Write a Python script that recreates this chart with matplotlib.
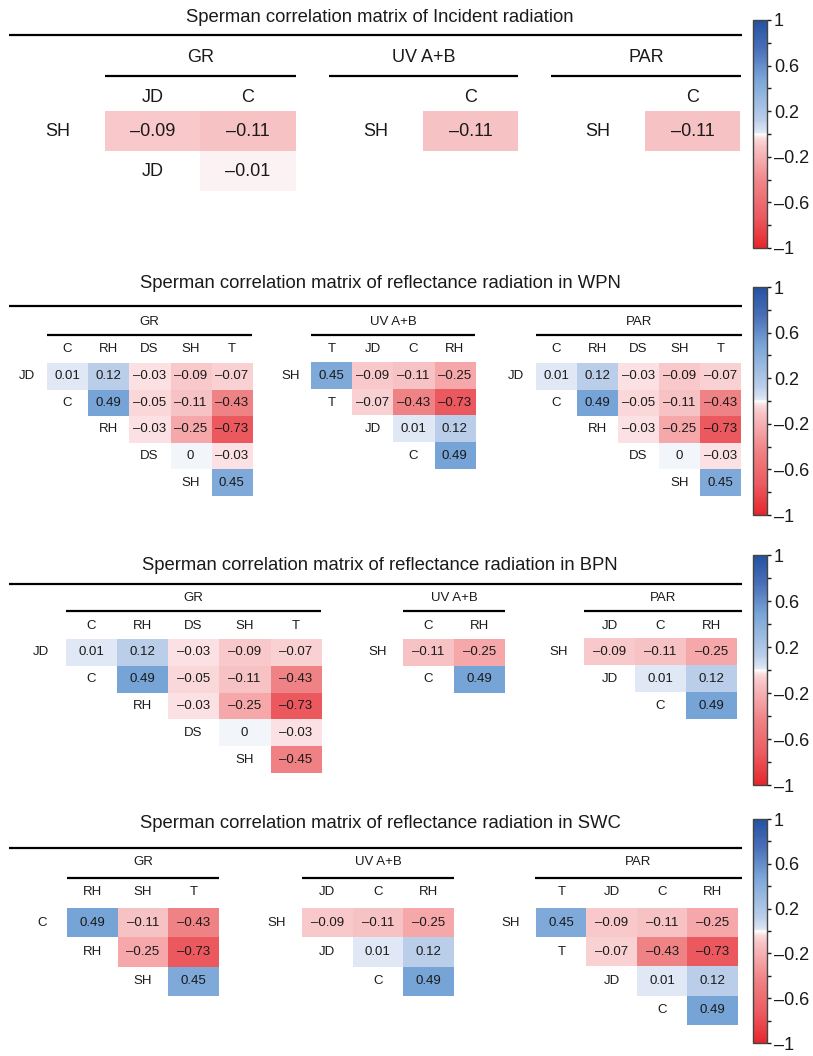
import numpy as np
import matplotlib
matplotlib.use('Agg')
import matplotlib.pyplot as plt
from matplotlib.colors import LinearSegmentedColormap, Normalize
from matplotlib.cm import ScalarMappable
from matplotlib.ticker import FixedLocator

plt.rcParams['font.family'] = ['Liberation Sans', 'DejaVu Sans']

nan = np.nan

# Incident radiation
inc_gr_cols = ['JD', 'C']
inc_gr_rows = ['SH', 'JD']
inc_gr_vals = [[-0.09, -0.11],
               [nan, -0.01]]
inc_uv_cols = ['C']
inc_uv_rows = ['SH']
inc_uv_vals = [[-0.11]]
inc_par_cols = ['C']
inc_par_rows = ['SH']
inc_par_vals = [[-0.11]]

# Reflectance radiation, WPN
wpn_gr_cols = ['C', 'RH', 'DS', 'SH', 'T']
wpn_gr_rows = ['JD', 'C', 'RH', 'DS', 'SH']
wpn_gr_vals = [[0.01, 0.12, -0.03, -0.09, -0.07],
               [nan, 0.49, -0.05, -0.11, -0.43],
               [nan, nan, -0.03, -0.25, -0.73],
               [nan, nan, nan, 0, -0.03],
               [nan, nan, nan, nan, 0.45]]
wpn_uv_cols = ['T', 'JD', 'C', 'RH']
wpn_uv_rows = ['SH', 'T', 'JD', 'C']
wpn_uv_vals = [[0.45, -0.09, -0.11, -0.25],
               [nan, -0.07, -0.43, -0.73],
               [nan, nan, 0.01, 0.12],
               [nan, nan, nan, 0.49]]
wpn_par_cols = ['C', 'RH', 'DS', 'SH', 'T']
wpn_par_rows = ['JD', 'C', 'RH', 'DS', 'SH']
wpn_par_vals = [[0.01, 0.12, -0.03, -0.09, -0.07],
                [nan, 0.49, -0.05, -0.11, -0.43],
                [nan, nan, -0.03, -0.25, -0.73],
                [nan, nan, nan, 0, -0.03],
                [nan, nan, nan, nan, 0.45]]

# Reflectance radiation, BPN
bpn_gr_cols = ['C', 'RH', 'DS', 'SH', 'T']
bpn_gr_rows = ['JD', 'C', 'RH', 'DS', 'SH']
bpn_gr_vals = [[0.01, 0.12, -0.03, -0.09, -0.07],
               [nan, 0.49, -0.05, -0.11, -0.43],
               [nan, nan, -0.03, -0.25, -0.73],
               [nan, nan, nan, 0, -0.03],
               [nan, nan, nan, nan, -0.45]]
bpn_uv_cols = ['C', 'RH']
bpn_uv_rows = ['SH', 'C']
bpn_uv_vals = [[-0.11, -0.25],
               [nan, 0.49]]
bpn_par_cols = ['JD', 'C', 'RH']
bpn_par_rows = ['SH', 'JD', 'C']
bpn_par_vals = [[-0.09, -0.11, -0.25],
                [nan, 0.01, 0.12],
                [nan, nan, 0.49]]

# Reflectance radiation, SWC
swc_gr_cols = ['RH', 'SH', 'T']
swc_gr_rows = ['C', 'RH', 'SH']
swc_gr_vals = [[0.49, -0.11, -0.43],
               [nan, -0.25, -0.73],
               [nan, nan, 0.45]]
swc_uv_cols = ['JD', 'C', 'RH']
swc_uv_rows = ['SH', 'JD', 'C']
swc_uv_vals = [[-0.09, -0.11, -0.25],
               [nan, 0.01, 0.12],
               [nan, nan, 0.49]]
swc_par_cols = ['T', 'JD', 'C', 'RH']
swc_par_rows = ['SH', 'T', 'JD', 'C']
swc_par_vals = [[0.45, -0.09, -0.11, -0.25],
                [nan, -0.07, -0.43, -0.73],
                [nan, nan, 0.01, 0.12],
                [nan, nan, nan, 0.49]]

group_names = ['GR', 'UV A+B', 'PAR']
cbar_ticks = [1, 0.6, 0.2, -0.2, -0.6, -1]
cbar_labels = ['1', '0.6', '0.2', '\u20130.2', '\u20130.6', '\u20131']

# red - white - blue diverging map
cmap = LinearSegmentedColormap.from_list('rwb', [
    (0.0, '#e6262b'),
    (0.135, '#ec5a60'),
    (0.285, '#f08386'),
    (0.375, '#f5a7aa'),
    (0.45, '#f8c5c7'),
    (0.485, '#fbdfe1'),
    (0.5, '#ffffff'),
    (0.505, '#e0e9f5'),
    (0.56, '#bccfea'),
    (0.745, '#78a5d8'),
    (0.875, '#4a6fb9'),
    (1.0, '#2352a0'),
])
norm = Normalize(-1, 1)

W, H = 813, 1056
fig = plt.figure(figsize=(W / 100, H / 100), dpi=100)
bg = fig.add_axes([0, 0, 1, 1])
bg.set_xlim(0, W)
bg.set_ylim(H, 0)
bg.axis('off')

txt = '#1a1a1a'


def fmt(v):
    if v == 0:
        return '0'
    return f'{v:.2f}'.replace('-', '\u2013')


def draw_matrix(cols, rows, vals, x0, top, cw, ch, fs):
    vals = np.array(vals, dtype=float)
    nr, nc = vals.shape
    bg.imshow(np.ma.masked_invalid(vals), cmap=cmap, norm=norm,
              extent=[x0, x0 + nc * cw, top + nr * ch, top],
              aspect='auto', interpolation='nearest', zorder=1)
    for i in range(nr):
        for j in range(nc):
            if not np.isnan(vals[i, j]):
                bg.text(x0 + (j + 0.5) * cw, top + (i + 0.5) * ch, fmt(vals[i, j]),
                        ha='center', va='center', fontsize=fs, color=txt, zorder=3)
        # row label sits just left of the first cell of its row
        bg.text(x0 + (i - 0.5) * cw, top + (i + 0.5) * ch, rows[i],
                ha='center', va='center', fontsize=fs, color=txt, zorder=3)
    return nc


panels = [
    dict(title='Sperman correlation matrix of Incident radiation',
         groups=[(inc_gr_cols, inc_gr_rows, inc_gr_vals),
                 (inc_uv_cols, inc_uv_rows, inc_uv_vals),
                 (inc_par_cols, inc_par_rows, inc_par_vals)],
         title_y=17, line_y=35, head_y=57, uline_y=76, clab_y=97, top=111,
         cw=95, ch=40, x0=[105, 423, 645], uline=[(105, 296), (329, 518), (551, 741)],
         fs=13, cbar=(20, 248)),
    dict(title='Sperman correlation matrix of reflectance radiation in WPN',
         groups=[(wpn_gr_cols, wpn_gr_rows, wpn_gr_vals),
                 (wpn_uv_cols, wpn_uv_rows, wpn_uv_vals),
                 (wpn_par_cols, wpn_par_rows, wpn_par_vals)],
         title_y=283, line_y=306, head_y=322, uline_y=335, clab_y=349, top=363,
         cw=41, ch=26.6, x0=[47, 311, 536], uline=[(47, 252), (311, 475), (536, 742)],
         fs=9.5, cbar=(287, 515)),
    dict(title='Sperman correlation matrix of reflectance radiation in BPN',
         groups=[(bpn_gr_cols, bpn_gr_rows, bpn_gr_vals),
                 (bpn_uv_cols, bpn_uv_rows, bpn_uv_vals),
                 (bpn_par_cols, bpn_par_rows, bpn_par_vals)],
         title_y=565, line_y=584, head_y=598, uline_y=611, clab_y=626, top=639,
         cw=51, ch=26.8, x0=[66, 403, 584], uline=[(66, 321), (403, 505), (584, 742)],
         fs=9.5, cbar=(555, 785)),
    dict(title='Sperman correlation matrix of reflectance radiation in SWC',
         groups=[(swc_gr_cols, swc_gr_rows, swc_gr_vals),
                 (swc_uv_cols, swc_uv_rows, swc_uv_vals),
                 (swc_par_cols, swc_par_rows, swc_par_vals)],
         title_y=823, line_y=848, head_y=862, uline_y=878, clab_y=892, top=908,
         cw=50.5, ch=29.2, x0=[67, 302, 536], uline=[(67, 219), (302, 454), (535, 742)],
         fs=9.5, cbar=(819, 1043)),
]

for p in panels:
    bg.text(380, p['title_y'], p['title'], ha='center', va='center', fontsize=13.3, color=txt)
    bg.plot([9, 742], [p['line_y'], p['line_y']], color='black', lw=1.6, solid_capstyle='butt')
    for name, (cols, rows, vals), x0, (u0, u1) in zip(group_names, p['groups'], p['x0'], p['uline']):
        draw_matrix(cols, rows, vals, x0, p['top'], p['cw'], p['ch'], p['fs'])
        for j, c in enumerate(cols):
            bg.text(x0 + (j + 0.5) * p['cw'], p['clab_y'], c, ha='center', va='center',
                    fontsize=p['fs'], color=txt)
        bg.plot([u0, u1], [p['uline_y'], p['uline_y']], color='black', lw=1.6, solid_capstyle='butt')
        bg.text((u0 + u1) / 2, p['head_y'], name, ha='center', va='center',
                fontsize=p['fs'], color=txt)

    # colorbar at the right of each block
    y0, y1 = p['cbar']
    cax = fig.add_axes([753 / W, 1 - y1 / H, 14 / W, (y1 - y0) / H])
    cb = fig.colorbar(ScalarMappable(norm=norm, cmap=cmap), cax=cax, ticks=cbar_ticks)
    cb.ax.set_yticklabels(cbar_labels)
    cb.ax.yaxis.set_minor_locator(FixedLocator([0.8, 0.4, 0.0, -0.4, -0.8]))
    cb.ax.tick_params(which='both', length=3, width=1, labelsize=13, pad=2, colors=txt)
    cb.outline.set_edgecolor('#444444')
    cb.outline.set_linewidth(1)

bg.set_xlim(0, W)
bg.set_ylim(H, 0)

fig.savefig('out.png', dpi=100)
